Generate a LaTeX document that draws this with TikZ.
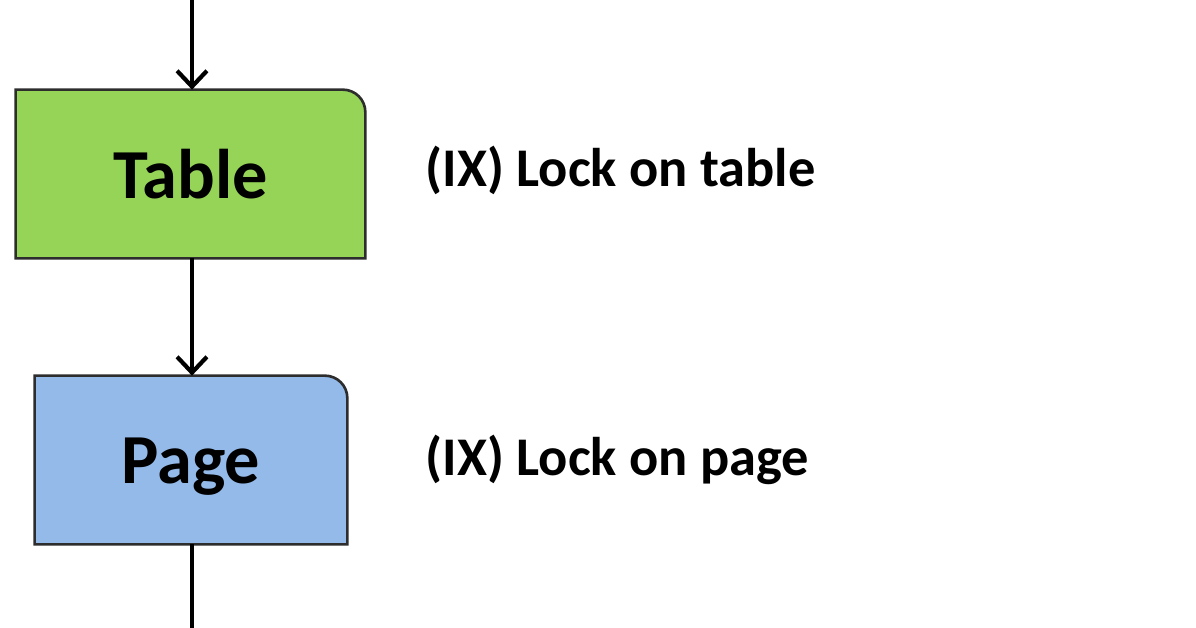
\documentclass[tikz,border=0pt]{standalone}
\usepackage{fontspec}
\setmainfont{Carlito}
\usetikzlibrary{positioning, arrows.meta}
\definecolor{tablegreen}{RGB}{150,212,88}
\definecolor{pageblue}{RGB}{148,186,234}
\definecolor{boxedge}{RGB}{45,45,45}

\begin{document}
\begin{tikzpicture}
  \tikzstyle{level} = [rectangle, minimum height=3.36cm, inner sep=0pt, font=\fontsize{40}{48}\selectfont\bfseries]
  \tikzstyle{lock} = [inner sep=0pt, font=\fontsize{31}{37}\selectfont\bfseries]
  \tikzstyle{outline} = [draw=boxedge, line width=1.5pt]
  \tikzstyle{arrow} = [draw, line width=2.4pt, -{Straight Barb[length=9pt, width=17pt]}]

  \useasboundingbox (0,0) rectangle (23.92,-12.56);

  \coordinate (top) at (3.84,0);
  \node (table) [level, minimum width=6.98cm] at (3.81,-3.48) {};
  \node (page) [level, minimum width=6.24cm] at (3.82,-9.2) {};
  \coordinate (bottom) at (3.84,-12.56);

  % boxes with one rounded corner
  \foreach \n/\c in {table/tablegreen, page/pageblue}
    \draw [outline, fill=\c] (\n.south west) -- (\n.north west) [rounded corners=0.45cm] -- (\n.north east) [sharp corners] -- (\n.south east) -- cycle;

  \node (tablename) [level] at (table) {Table};
  \node (pagename) [level, yshift=-0.14cm] at (page) {Page};

  \node (tablelock) [lock, right=1.2cm of table, yshift=0.08cm] {(IX) Lock on table};
  \node (pagelock) [lock, right=1.56cm of page] {(IX) Lock on page};

  \draw [arrow] (top) -- (table.north -| top);
  \draw [arrow] (table.south -| top) -- (page.north -| top);
  \draw [line width=2.4pt] (page.south -| top) -- (bottom);
\end{tikzpicture}
\end{document}
